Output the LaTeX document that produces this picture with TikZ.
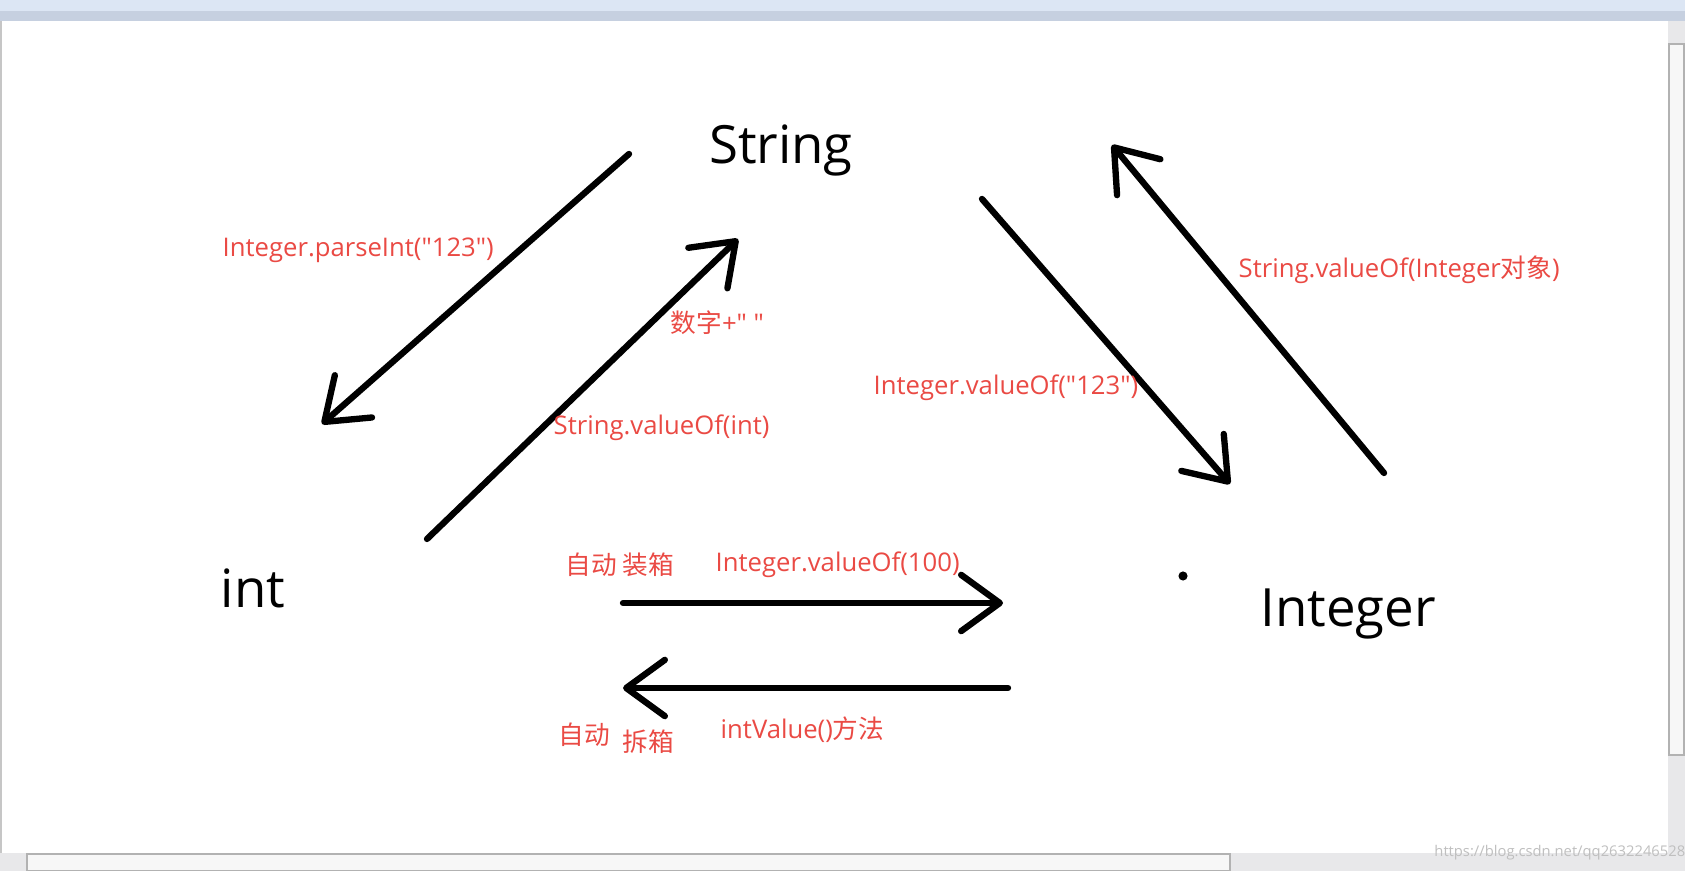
\documentclass[tikz,border=0pt]{standalone}
\usepackage{fontspec}
\setmainfont{Open Sans}[Ligatures=TeXOff]
\newfontfamily\cjk{Noto Sans CJK SC}
\usetikzlibrary{arrows.meta}
\definecolor{penred}{RGB}{234,74,68}
\definecolor{barblue}{RGB}{220,230,244}
\definecolor{bandgray}{RGB}{198,208,224}
\definecolor{scrollgray}{RGB}{232,232,234}
\tikzset{
  stroke/.style={line width=1.8pt, line cap=round, -{Straight Barb[length=11pt,width=16pt,round]}},
  kind/.style={font=\fontsize{15}{18}\selectfont, inner sep=0pt},
  note/.style={font=\fontsize{7.3}{9}\selectfont, text=penred, inner sep=0pt, anchor=west},
  thumb/.style={fill=white!94!gray, draw=gray!60, line width=0.4pt}
}

\begin{document}
\begin{tikzpicture}[x=0.01cm, y=-0.01cm]
  \useasboundingbox (0,0) rectangle (1685,871);
  % window frame
  \fill[white] (0,0) rectangle (1685,871);
  \fill[barblue] (0,0) rectangle (1685,11);
  \fill[bandgray] (0,11) rectangle (1685,21);
  \fill[gray!45] (0,21) rectangle (2,853);
  \fill[scrollgray] (1668,21) rectangle (1685,871);
  \fill[scrollgray] (0,853) rectangle (1685,871);
  \draw[thumb] (1669,44) rectangle (1684,755);
  \draw[thumb] (27,854) rectangle (1230,871);
  \node[font=\fontsize{4.2}{5}\selectfont, text=gray!50, anchor=west] (mark) at (1422,853) {https://blog.csdn.net/qq2632246528};

  % the three types
  \node[kind] (str) at (781,150) {String};
  \node[kind] (int) at (253,588) {int};
  \node[kind] (intg) at (1348,614) {Integer};

  % stroke ends
  \coordinate (si-a) at (629,154);  \coordinate (si-b) at (322,424);
  \coordinate (is-a) at (427,539);  \coordinate (is-b) at (738,239);
  \coordinate (sg-a) at (982,199);  \coordinate (sg-b) at (1230,484);
  \coordinate (gs-a) at (1384,473); \coordinate (gs-b) at (1112,145);
  \coordinate (box-a) at (623,603); \coordinate (box-b) at (1003,603);
  \coordinate (unb-a) at (1008,688); \coordinate (unb-b) at (623,688);

  \draw[stroke] (si-a) -- (si-b);
  \draw[stroke] (is-a) -- (is-b);
  \draw[stroke] (sg-a) -- (sg-b);
  \draw[stroke] (gs-a) -- (gs-b);
  \draw[stroke] (box-a) -- (box-b);
  \draw[stroke] (unb-a) -- (unb-b);
  \fill (1183,576) circle[radius=1.3pt];

  % red notes
  \node[note] (n-parse) at (222,250) {Integer.parseInt("123")};
  \node[note] (n-plus) at (670,323) {{\cjk 数字}+" "};
  \node[note] (n-sval) at (553,428) {String.valueOf(int)};
  \node[note] (n-ival) at (873,388) {Integer.valueOf("123")};
  \node[note] (n-sobj) at (1238,270) {String.valueOf(Integer{\cjk 对象})};
  \node[note] (n-auto1) at (565,565) {{\cjk 自动 装箱}};
  \node[note] (n-box) at (715,565) {Integer.valueOf(100)};
  \node[note] (n-auto2) at (558,735) {{\cjk 自动}};
  \node[note] (n-unbox) at (622,742) {{\cjk 拆箱}};
  \node[note] (n-intv) at (720,730) {intValue(){\cjk 方法}};
\end{tikzpicture}
\end{document}
